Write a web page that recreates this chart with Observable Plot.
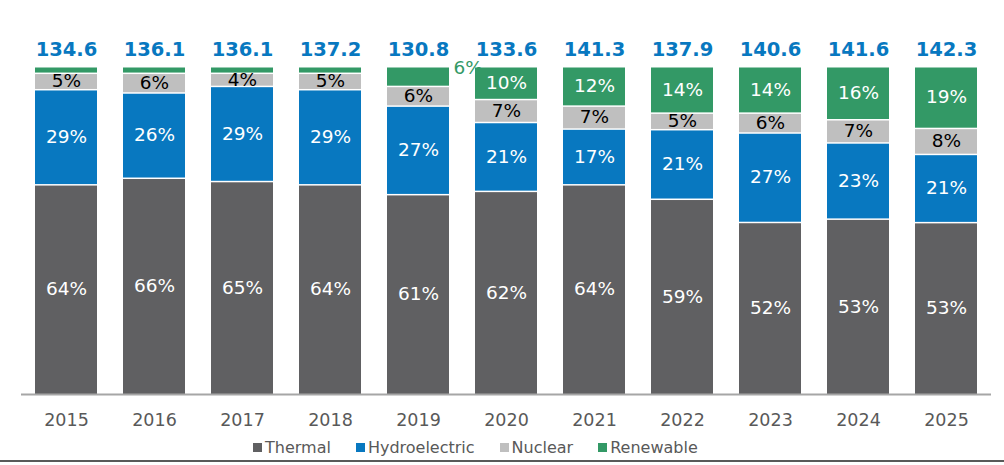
<!DOCTYPE html>
<html>
<head>
<meta charset="utf-8">
<script src="https://cdn.jsdelivr.net/npm/d3@7"></script>
<script src="https://cdn.jsdelivr.net/npm/@observablehq/plot@0.6"></script>
<style>
  html, body { margin: 0; padding: 0; background: #fff; }
  body { width: 1004px; height: 465px; overflow: hidden; font-family: "DejaVu Sans", Verdana, sans-serif; }
  #legend { display: flex; align-items: center; margin-left: 253px; margin-top: 5px; height: 20px;
            font-size: 16px; color: #595959; }
  .item { display: flex; align-items: center; margin-right: 25px; }
  .sw { width: 9px; height: 9px; margin-right: 3px; }
  #bottom { position: absolute; left: 0; top: 460px; width: 1004px; height: 2px; background: #595959; }
</style>
</head>
<body>
<div id="chart"></div>
<div id="legend"></div>
<div id="bottom"></div>
<script>
const years = [2015, 2016, 2017, 2018, 2019, 2020, 2021, 2022, 2023, 2024, 2025];
const totals = [134.6, 136.1, 136.1, 137.2, 130.8, 133.6, 141.3, 137.9, 140.6, 141.6, 142.3];
const sources = ["Thermal", "Hydroelectric", "Nuclear", "Renewable"];
const colors = ["#606062", "#0878c0", "#bfbfbf", "#339966"];
const thermal = [64, 66, 65, 64, 61, 62, 64, 59, 52, 53, 53];
const hydro = [29, 26, 29, 29, 27, 21, 17, 21, 27, 23, 21];
const nuclear = [5, 6, 4, 5, 6, 7, 7, 5, 6, 7, 8];
const renewable = [2, 2, 2, 2, 6, 10, 12, 14, 14, 16, 19];
// which renewable shares are labelled inside the bar / outside next to it
const renewableInside = [false, false, false, false, false, true, true, true, true, true, true];
const renewableOutside = [false, false, false, false, true, false, false, false, false, false, false];

const series = [thermal, hydro, nuclear, renewable];
const table = years.flatMap((year, i) => sources.map((source, j) => ({
  year, source, value: series[j][i],
  inside: source !== "Renewable" || renewableInside[i],
  outside: source === "Renewable" && renewableOutside[i]
})));
const totalTable = years.map((year, i) => ({year, total: totals[i]}));

const stackOpts = {x: "year", y: "value", z: "source", offset: "normalize", order: sources};

const chart = Plot.plot({
  width: 1004,
  height: 432,
  marginTop: 66,
  marginBottom: 38,
  marginLeft: 21,
  marginRight: 13,
  style: {fontFamily: "DejaVu Sans, Verdana, sans-serif", color: "#595959", background: "white"},
  x: {type: "band", domain: years, paddingInner: 0.3, paddingOuter: 0.15, label: null},
  y: {axis: null},
  color: {domain: sources, range: colors},
  marks: [
    Plot.barY(table, {...stackOpts, fill: "source", insetTop: 1.5}),
    Plot.text(table, Plot.stackY({...stackOpts,
      text: d => (d.inside && d.source !== "Nuclear") ? d.value + "%" : "",
      fill: "white", fontSize: 18.5})),
    Plot.text(table, Plot.stackY({...stackOpts,
      text: d => d.source === "Nuclear" ? d.value + "%" : "",
      fill: "black", fontSize: 18.5})),
    Plot.text(table, Plot.stackY2({...stackOpts,
      text: d => d.outside ? d.value + "%" : "",
      fill: "#339966", fontSize: 18.5, textAnchor: "start", dx: 35, dy: 2})),
    Plot.text(totalTable, {x: "year", text: d => d.total.toFixed(1), frameAnchor: "top",
      dy: -24, fill: "#0878c0", fontWeight: "bold", fontSize: 19.5}),
    Plot.ruleY([0], {stroke: "#a6a6a6", strokeWidth: 2}),
    Plot.axisX({tickSize: 0, tickPadding: 19, fontSize: 17.5, label: null, fill: "#595959",
      tickFormat: d => String(d)})
  ]
});
document.getElementById("chart").appendChild(chart);

const legend = document.getElementById("legend");
sources.forEach((s, i) => {
  const item = document.createElement("div");
  item.className = "item";
  const sw = document.createElement("div");
  sw.className = "sw";
  sw.style.background = colors[i];
  const label = document.createElement("span");
  label.textContent = s;
  item.appendChild(sw);
  item.appendChild(label);
  legend.appendChild(item);
});
</script>
</body>
</html>
